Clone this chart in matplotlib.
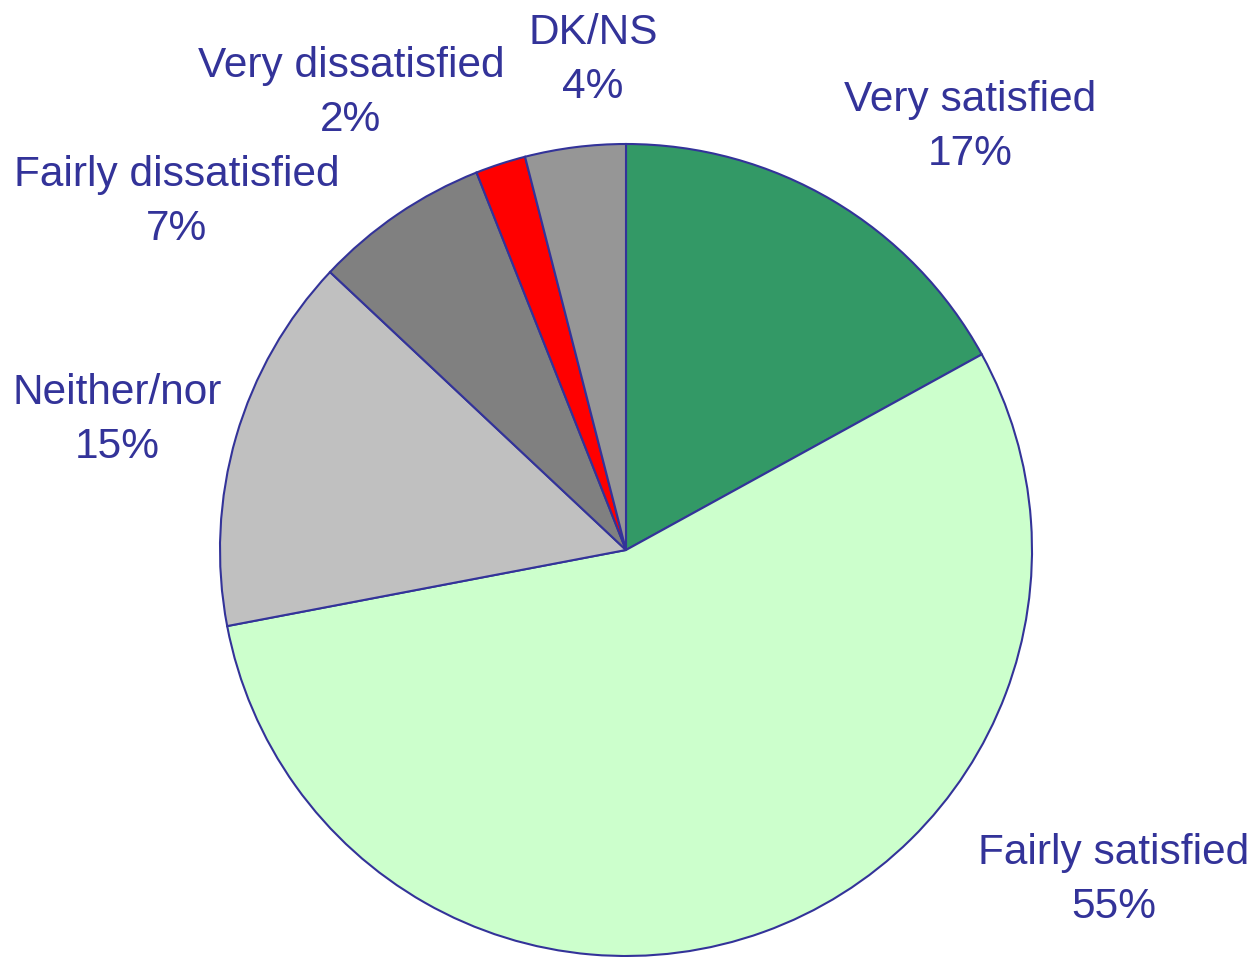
import matplotlib.pyplot as plt

# satisfaction shares, clockwise from 12 o'clock
labels = ["Very satisfied", "Fairly satisfied", "Neither/nor",
          "Fairly dissatisfied", "Very dissatisfied", "DK/NS"]
shares = [17, 55, 15, 7, 2, 4]
colors = ["#339966", "#CCFFCC", "#C0C0C0", "#808080", "#FF0000", "#969696"]

# label block centres in pixel coords (x, y from top)
label_pos = [(970, 127), (1114, 880), (117, 420),
             (177, 202), (351, 93), (593, 60)]

W, H = 1256, 957
fig = plt.figure(figsize=(W / 100, H / 100), dpi=100)
ax = fig.add_axes([0, 0, 1, 1])

ax.pie(shares, colors=colors, startangle=90, counterclock=False,
       center=(626, H - 550), radius=406, frame=True,
       wedgeprops=dict(edgecolor="#333399", linewidth=1.5))
ax.set_xlim(0, W)
ax.set_ylim(0, H)
ax.set_aspect("equal")
ax.axis("off")

for name, val, (x, y) in zip(labels, shares, label_pos):
    ax.text(x, H - y, "%s\n%d%%" % (name, val), ha="center", va="center",
            multialignment="center", fontsize=30.5, color="#333399",
            family="Liberation Sans", linespacing=1.45)

fig.savefig("out.png", dpi=100)
